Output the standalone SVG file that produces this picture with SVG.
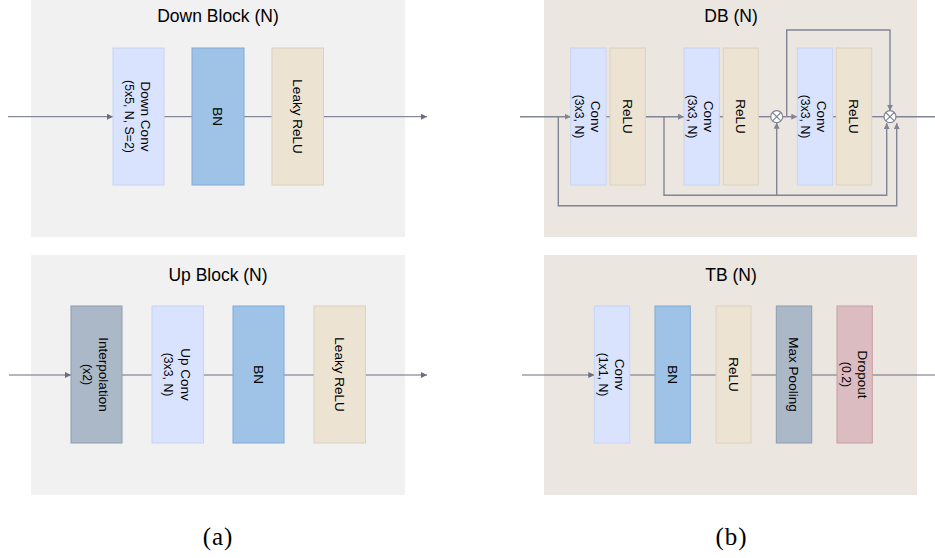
<svg xmlns="http://www.w3.org/2000/svg" width="935" height="558" viewBox="0 0 935 558">
<defs>
<style>
.bgA{fill:#f1f1f1}
.bgB{fill:#ebe7e0}
.conv{fill:#dae3fd;stroke:#c6d4f7;stroke-width:1}
.bn{fill:#9fc3e6;stroke:#7fa9d8;stroke-width:1}
.relu{fill:#ede3d2;stroke:#dbd1be;stroke-width:1}
.grey{fill:#abb8c7;stroke:#8d9bab;stroke-width:1}
.drop{fill:#dbbcc1;stroke:#c99ba3;stroke-width:1}
text{font-family:"Liberation Sans",Arial,sans-serif;fill:#000}
.title{font-size:17.5px;text-anchor:middle}
.l1{font-size:13.5px;text-anchor:middle}
.l2{font-size:12.3px;text-anchor:middle}
.cap{font-family:"Liberation Serif","Times New Roman",serif;font-size:25px;text-anchor:middle;letter-spacing:1px}
.ln{fill:none;stroke:#6b6e80;stroke-width:1}
.lnb{fill:none;stroke:#818494;stroke-width:1.4}
.op{fill:#fff;stroke:#818494;stroke-width:1.2}
</style>
<marker id="ar" markerWidth="6" markerHeight="6" refX="6" refY="3" orient="auto" markerUnits="userSpaceOnUse">
<path d="M0,0 L6,3 L0,6 z" fill="#6b6e80"/>
</marker>
<marker id="arb" markerWidth="6" markerHeight="6" refX="6" refY="3" orient="auto" markerUnits="userSpaceOnUse">
<path d="M0,0 L6,3 L0,6 z" fill="#818494"/>
</marker>
</defs>

<!-- panel backgrounds -->
<g id="panel-down">
<rect class="bgA" x="31" y="0" width="374" height="237"/>
<text class="title" x="218" y="22">Down Block (N)</text>
</g>
<g id="panel-up">
<rect class="bgA" x="31" y="255" width="374" height="240"/>
<text class="title" x="218" y="281">Up Block (N)</text>
</g>
<g id="panel-db">
<rect class="bgB" x="544" y="0" width="373" height="237"/>
<text class="title" x="731" y="22">DB (N)</text>
</g>
<g id="panel-tb">
<rect class="bgB" x="544" y="255" width="373" height="240"/>
<text class="title" x="731" y="281">TB (N)</text>
</g>

<!-- connectors -->
<g id="connectors">
<line class="ln" x1="8" y1="116.7" x2="113" y2="116.7" marker-end="url(#ar)"/>
<line class="ln" x1="164" y1="116.7" x2="192" y2="116.7"/>
<line class="ln" x1="244" y1="116.7" x2="272" y2="116.7"/>
<line class="ln" x1="324" y1="116.7" x2="427" y2="116.7" marker-end="url(#ar)"/>

<line class="ln" x1="9" y1="375" x2="71" y2="375" marker-end="url(#ar)"/>
<line class="ln" x1="122" y1="375" x2="152" y2="375"/>
<line class="ln" x1="203" y1="375" x2="233" y2="375"/>
<line class="ln" x1="284" y1="375" x2="314" y2="375"/>
<line class="ln" x1="366" y1="375" x2="427" y2="375" marker-end="url(#ar)"/>

<line class="lnb" x1="520" y1="116.7" x2="570.7" y2="116.7" marker-end="url(#arb)"/>
<line class="lnb" x1="606" y1="116.7" x2="610" y2="116.7"/>
<line class="lnb" x1="645.3" y1="116.7" x2="684" y2="116.7" marker-end="url(#arb)"/>
<line class="lnb" x1="719.3" y1="116.7" x2="723.3" y2="116.7"/>
<line class="lnb" x1="758.3" y1="116.7" x2="770.7" y2="116.7"/>
<line class="lnb" x1="782.7" y1="116.7" x2="797.3" y2="116.7" marker-end="url(#arb)"/>
<line class="lnb" x1="832.7" y1="116.7" x2="836.3" y2="116.7"/>
<line class="lnb" x1="871.7" y1="116.7" x2="884" y2="116.7"/>
<line class="lnb" x1="896" y1="116.7" x2="941" y2="116.7" marker-end="url(#arb)"/>
<path class="lnb" d="M558.3,116.7 V205.7 H896.7 V123" marker-end="url(#arb)"/>
<path class="lnb" d="M664,116.7 V195.3 H886.7 V123" marker-end="url(#arb)"/>
<path class="lnb" d="M776.7,195.3 V122.7" marker-end="url(#arb)"/>
<path class="lnb" d="M786.7,116.7 V30 H890 V110.7" marker-end="url(#arb)"/>

<line class="ln" x1="522" y1="375" x2="594.3" y2="375" marker-end="url(#ar)"/>
<line class="ln" x1="629.7" y1="375" x2="655" y2="375"/>
<line class="ln" x1="690.3" y1="375" x2="716" y2="375"/>
<line class="ln" x1="751" y1="375" x2="776.3" y2="375"/>
<line class="ln" x1="811.7" y1="375" x2="837" y2="375"/>
<line class="ln" x1="872.3" y1="375" x2="941" y2="375" marker-end="url(#ar)"/>
</g>

<!-- (a) Down Block nodes -->
<g id="down-conv">
<rect class="conv" x="113" y="48" width="51" height="137"/>
<text class="l1" transform="translate(141.3,116.5) rotate(90)">Down Conv</text>
<text class="l2" transform="translate(125,116.5) rotate(90)">(5x5, N, S=2)</text>
</g>
<g id="down-bn">
<rect class="bn" x="192" y="48" width="52" height="137"/>
<text class="l1" transform="translate(213.1,116.5) rotate(90)">BN</text>
</g>
<g id="down-lrelu">
<rect class="relu" x="272" y="48" width="51.5" height="137"/>
<text class="l1" transform="translate(293,116.5) rotate(90)">Leaky ReLU</text>
</g>

<!-- (a) Up Block nodes -->
<g id="up-interp">
<rect class="grey" x="71" y="306" width="51" height="137"/>
<text class="l1" transform="translate(99.4,374.5) rotate(90)">Interpolation</text>
<text class="l2" transform="translate(83.4,374.5) rotate(90)">(x2)</text>
</g>
<g id="up-conv">
<rect class="conv" x="152" y="306" width="51.5" height="137"/>
<text class="l1" transform="translate(180.8,374.5) rotate(90)">Up Conv</text>
<text class="l2" transform="translate(164.1,374.5) rotate(90)">(3x3, N)</text>
</g>
<g id="up-bn">
<rect class="bn" x="233" y="306" width="51" height="137"/>
<text class="l1" transform="translate(253.6,374.5) rotate(90)">BN</text>
</g>
<g id="up-lrelu">
<rect class="relu" x="314" y="306" width="51.5" height="137"/>
<text class="l1" transform="translate(334.8,374.5) rotate(90)">Leaky ReLU</text>
</g>

<!-- (b) DB nodes -->
<g id="db-conv1">
<rect class="conv" x="570.7" y="48" width="35.3" height="137"/>
<text class="l1" transform="translate(590.6,116.5) rotate(90)">Conv</text>
<text class="l2" transform="translate(574.6,116.5) rotate(90)">(3x3, N)</text>
</g>
<g id="db-relu1">
<rect class="relu" x="610" y="48" width="35.3" height="137"/>
<text class="l1" transform="translate(622.8,116.5) rotate(90)">ReLU</text>
</g>
<g id="db-conv2">
<rect class="conv" x="684" y="48" width="35.3" height="137"/>
<text class="l1" transform="translate(703.9,116.5) rotate(90)">Conv</text>
<text class="l2" transform="translate(687.9,116.5) rotate(90)">(3x3, N)</text>
</g>
<g id="db-relu2">
<rect class="relu" x="723.3" y="48" width="35" height="137"/>
<text class="l1" transform="translate(736,116.5) rotate(90)">ReLU</text>
</g>
<g id="db-mul1">
<circle class="op" cx="776.7" cy="116.7" r="6"/>
<path d="M772.5,112.5 L780.9,120.9 M780.9,112.5 L772.5,120.9" stroke="#818494" stroke-width="1.1"/>
</g>
<g id="db-conv3">
<rect class="conv" x="797.3" y="48" width="35.4" height="137"/>
<text class="l1" transform="translate(817.2,116.5) rotate(90)">Conv</text>
<text class="l2" transform="translate(801.2,116.5) rotate(90)">(3x3, N)</text>
</g>
<g id="db-relu3">
<rect class="relu" x="836.3" y="48" width="35.4" height="137"/>
<text class="l1" transform="translate(849.1,116.5) rotate(90)">ReLU</text>
</g>
<g id="db-mul2">
<circle class="op" cx="890" cy="116.7" r="6"/>
<path d="M885.8,112.5 L894.2,120.9 M894.2,112.5 L885.8,120.9" stroke="#818494" stroke-width="1.1"/>
</g>

<!-- (b) TB nodes -->
<g id="tb-conv">
<rect class="conv" x="594.3" y="306" width="35.4" height="137"/>
<text class="l1" transform="translate(615,374.5) rotate(90)">Conv</text>
<text class="l2" transform="translate(598.5,374.5) rotate(90)">(1x1, N)</text>
</g>
<g id="tb-bn">
<rect class="bn" x="655" y="306" width="35.3" height="137"/>
<text class="l1" transform="translate(667.8,374.5) rotate(90)">BN</text>
</g>
<g id="tb-relu">
<rect class="relu" x="716" y="306" width="35" height="137"/>
<text class="l1" transform="translate(728.6,374.5) rotate(90)">ReLU</text>
</g>
<g id="tb-maxpool">
<rect class="grey" x="776.3" y="306" width="35.4" height="137"/>
<text class="l1" transform="translate(789,374.5) rotate(90)">Max Pooling</text>
</g>
<g id="tb-dropout">
<rect class="drop" x="837" y="306" width="35.3" height="137"/>
<text class="l1" transform="translate(858.3,374.5) rotate(90)">Dropout</text>
<text class="l2" transform="translate(841.8,374.5) rotate(90)">(0.2)</text>
</g>

<!-- captions -->
<text class="cap" x="218" y="545">(a)</text>
<text class="cap" x="731.5" y="545">(b)</text>
</svg>
